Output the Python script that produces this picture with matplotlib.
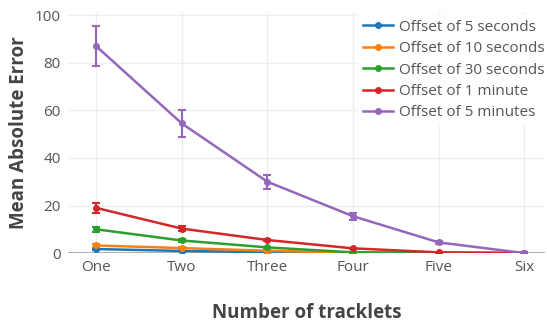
import matplotlib.pyplot as plt

plt.rcParams['font.family'] = ['Open Sans', 'DejaVu Sans']

categories = ['One', 'Two', 'Three', 'Four', 'Five', 'Six']
labels = ['Offset of 5 seconds', 'Offset of 10 seconds', 'Offset of 30 seconds',
          'Offset of 1 minute', 'Offset of 5 minutes']
colors = ['#1f77b4', '#ff7f0e', '#2ca02c', '#d62728', '#9467bd']

mae_5s = [1.7, 0.9, 0.4, 0.1, 0.0, 0.0]
mae_10s = [3.2, 2.1, 1.0, 0.2, 0.05, 0.0]
mae_30s = [10.0, 5.3, 2.4, 0.3, 0.1, 0.0]
mae_1m = [19.0, 10.3, 5.5, 2.0, 0.3, 0.0]
mae_5m = [87.0, 54.5, 30.0, 15.5, 4.5, 0.0]

err_5s = [0.3, 0.2, 0.1, 0.0, 0.0, 0.0]
err_10s = [0.5, 0.3, 0.2, 0.1, 0.0, 0.0]
err_30s = [1.0, 0.5, 0.3, 0.1, 0.0, 0.0]
err_1m = [2.0, 1.0, 0.5, 0.3, 0.1, 0.0]
err_5m = [8.5, 5.5, 3.0, 1.5, 0.5, 0.0]

series = [mae_5s, mae_10s, mae_30s, mae_1m, mae_5m]
errors = [err_5s, err_10s, err_30s, err_1m, err_5m]

fig = plt.figure(figsize=(5.47, 3.22), dpi=100)
ax = fig.add_axes([0.124, 0.214, 0.872, 0.75])

x = list(range(len(categories)))
for vals, errs, lab, col in zip(series, errors, labels, colors):
    ax.errorbar(x, vals, yerr=errs, color=col, fmt='none',
                elinewidth=1.5, capsize=3, capthick=1.5, zorder=3)
    ax.plot(x, vals, color=col, label=lab, marker='o', markersize=4,
            linewidth=1.8, zorder=4)

ax.set_xlim(-0.33, 5.24)
ax.set_ylim(0, 101.5)
ax.set_xticks(x)
ax.set_xticklabels(categories)
ax.set_yticks([0, 20, 40, 60, 80, 100])
ax.grid(True, color='#eeeeee', linewidth=1)
ax.axhline(0, color='#999999', linewidth=1.8, zorder=2)
for s in ax.spines.values():
    s.set_visible(False)
ax.tick_params(length=0, labelsize=11, labelcolor='#555555', pad=5)

ax.set_xlabel('Number of tracklets', fontsize=13.5, fontweight='bold', color='#444444', labelpad=20)
ax.set_ylabel('Mean Absolute Error', fontsize=13.5, fontweight='bold', color='#444444', labelpad=4)

leg = ax.legend(loc='upper right', bbox_to_anchor=(1.01, 0.985), frameon=True, fontsize=11,
                labelcolor='#555555', handlelength=2.0, handletextpad=0.4, labelspacing=0.42,
                borderpad=0.3, fancybox=False, borderaxespad=0)
leg.get_frame().set_edgecolor('white')
leg.get_frame().set_facecolor('white')
leg.get_frame().set_alpha(1)

fig.savefig('out.png', dpi=100)
